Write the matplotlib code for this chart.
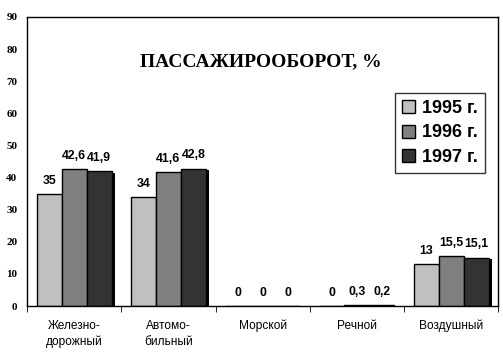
import matplotlib.pyplot as plt
import matplotlib.patheffects as pe
import numpy as np

# Data
categories = ['Железно-\nдорожный', 'Автомо-\nбильный', 'Морской', 'Речной', 'Воздушный']
years = ['1995 г.', '1996 г.', '1997 г.']
values_1995 = [35, 34, 0, 0, 13]
values_1996 = [42.6, 41.6, 0, 0.3, 15.5]
values_1997 = [41.9, 42.8, 0, 0.2, 15.1]
colors = ['#c0c0c0', '#808080', '#333333']

fig = plt.figure(figsize=(5.03, 3.53), dpi=100)
ax = fig.add_axes([0.0537, 0.133, 0.937, 0.819])

x = np.arange(len(categories))
width = 0.265
shadow = [pe.SimplePatchShadow(offset=(2.2, -1), shadow_rgbFace='black', alpha=1), pe.Normal()]

for i, vals in enumerate([values_1995, values_1996, values_1997]):
    pos = x + (i - 1) * width
    bars = ax.bar(pos, vals, width, color=colors[i], edgecolor='black', linewidth=1,
                  label=years[i], zorder=2)
    for b in bars:
        b.set_path_effects(shadow)
    for p, v in zip(pos, vals):
        txt = ('%g' % v).replace('.', ',')
        ax.text(p, v + 2.2, txt, ha='center', va='bottom', fontsize=8.8,
                fontweight='bold', family='Liberation Sans')

ax.set_xlim(-0.5, len(categories) - 0.5)
ax.set_ylim(0, 90)
ax.set_yticks(range(0, 91, 10))
ax.tick_params(axis='y', length=0, pad=7)
for lbl in ax.get_yticklabels():
    lbl.set_family('Liberation Serif')
    lbl.set_fontweight('bold')
    lbl.set_fontsize(8)

ax.set_xticks(x)
ax.set_xticklabels(categories, family='Liberation Sans', fontsize=8.6, linespacing=1.4)
ax.set_xticks(np.arange(-0.5, len(categories)), minor=True)
ax.tick_params(axis='x', which='major', length=0, pad=10)
ax.tick_params(axis='x', which='minor', length=4, direction='out')

for s in ax.spines.values():
    s.set_linewidth(1)

ax.text(0.497, 0.844, 'ПАССАЖИРООБОРОТ, %', transform=ax.transAxes, ha='center', va='center',
        fontsize=14, fontweight='bold', family='Liberation Serif')

leg = ax.legend(loc='upper left', bbox_to_anchor=(0.781, 0.737), prop={'family': 'Liberation Sans',
                'weight': 'bold', 'size': 13}, frameon=True, fancybox=False, edgecolor='black',
                handlelength=0.72, handleheight=0.72, handletextpad=0.35, borderpad=0.4,
                labelspacing=0.4, borderaxespad=0)
leg.get_frame().set_linewidth(1)
for h in leg.legend_handles:
    h.set_path_effects([])

fig.savefig('out.png', dpi=100)
